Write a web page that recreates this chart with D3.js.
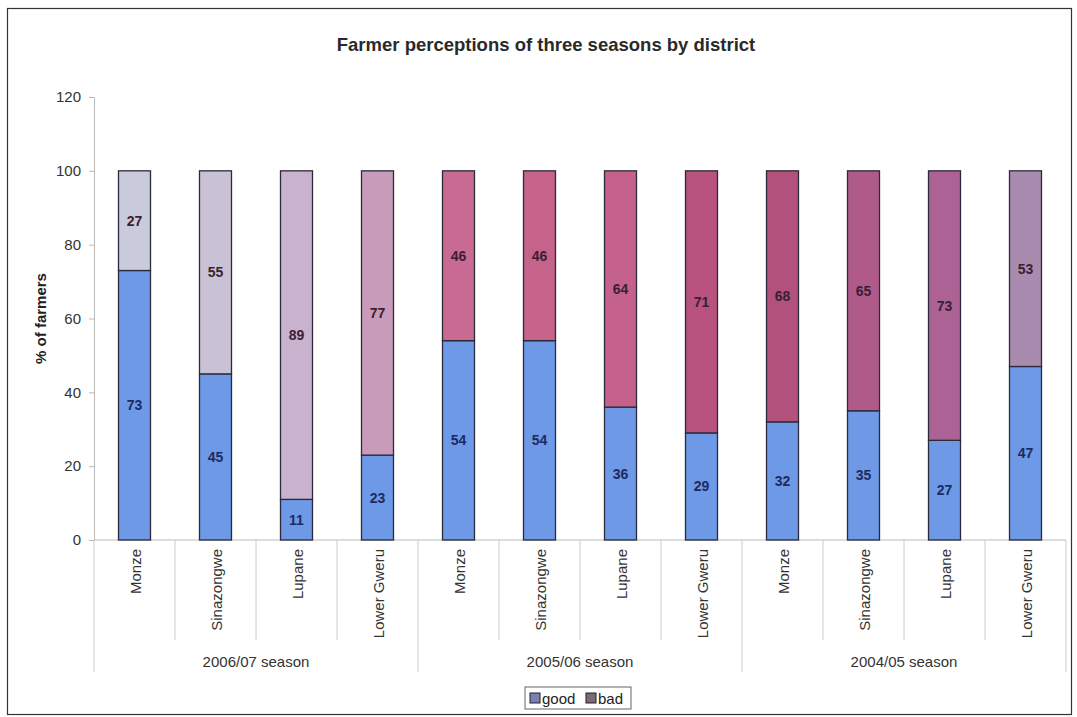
<!DOCTYPE html>
<html>
<head>
<meta charset="utf-8">
<script src="https://cdn.jsdelivr.net/npm/d3@7"></script>
<style>
  body { margin: 0; background: #fff; font-family: "Liberation Sans", Arial, sans-serif; }
</style>
</head>
<body>
<div id="chart"></div>
<script>
const districts = ["Monze", "Sinazongwe", "Lupane", "Lower Gweru"];
const seasons = ["2006/07 season", "2005/06 season", "2004/05 season"];
const good = [73, 45, 11, 23, 54, 54, 36, 29, 32, 35, 27, 47];
const bad = [27, 55, 89, 77, 46, 46, 64, 71, 68, 65, 73, 53];
const yTicks = [0, 20, 40, 60, 80, 100, 120];

// the scan tints each "bad" segment differently, keep that look
const badFill = ["#c9cadc", "#c9c2d6", "#c8b2cd", "#c99bbb", "#c86a92", "#c6638b",
  "#c5628c", "#b8537f", "#b2527c", "#b05a89", "#ad6296", "#a98bb0"];

const W = 1077, H = 717;
const m = { left: 94, right: 1066, top: 97, bottom: 540 };

const svg = d3.select("#chart").append("svg")
  .attr("width", W).attr("height", H);

// outer frame
svg.append("rect")
  .attr("x", 7.5).attr("y", 8.5)
  .attr("width", 1064).attr("height", 706)
  .attr("fill", "none").attr("stroke", "#333").attr("stroke-width", 1.2);

svg.append("text")
  .attr("x", 546).attr("y", 51)
  .attr("text-anchor", "middle")
  .attr("font-size", 18.5).attr("font-weight", "bold")
  .attr("fill", "#2a2a2a")
  .text("Farmer perceptions of three seasons by district");

const rows = [];
seasons.forEach((s, si) => districts.forEach((d, di) => {
  const i = si * districts.length + di;
  rows.push({ key: i, district: d, season: s, good: good[i], bad: bad[i], color: badFill[i] });
}));

const x = d3.scaleBand().domain(rows.map(r => r.key)).range([m.left, m.right]).paddingInner(0).paddingOuter(0);
const y = d3.scaleLinear().domain([0, 120]).range([m.bottom, m.top]);

// y axis
const yAxis = svg.append("g")
  .attr("transform", `translate(${m.left},0)`)
  .call(d3.axisLeft(y).tickValues(yTicks).tickSize(5).tickPadding(8));
yAxis.select(".domain").attr("stroke", "#bbb");
yAxis.selectAll(".tick line").attr("stroke", "#bbb");
yAxis.selectAll("text").attr("font-size", 15).attr("fill", "#333")
  .attr("font-family", "Liberation Sans, Arial, sans-serif");

svg.append("text")
  .attr("transform", `translate(46,${y(60)}) rotate(-90)`)
  .attr("text-anchor", "middle")
  .attr("font-size", 15).attr("font-weight", "bold").attr("fill", "#222")
  .text("% of farmers");

// x axis baseline
svg.append("line")
  .attr("x1", m.left).attr("x2", m.right)
  .attr("y1", y(0)).attr("y2", y(0))
  .attr("stroke", "#bbb");

// category separators
const edges = d3.range(rows.length + 1);
svg.append("g").selectAll("line").data(edges).join("line")
  .attr("x1", i => m.left + i * x.step()).attr("x2", i => m.left + i * x.step())
  .attr("y1", y(0))
  .attr("y2", i => i % districts.length === 0 ? 672 : 640)
  .attr("stroke", "#ccc");

const bw = 32;
const bars = svg.append("g").selectAll("g").data(rows).join("g")
  .attr("transform", d => `translate(${x(d.key) + x.bandwidth() / 2 - bw / 2},0)`);

bars.append("rect")
  .attr("y", d => y(d.good)).attr("height", d => y(0) - y(d.good))
  .attr("width", bw)
  .attr("fill", "#6e99e6").attr("stroke", "#2a2a3a").attr("stroke-width", 1.3);

bars.append("rect")
  .attr("y", d => y(d.good + d.bad)).attr("height", d => y(d.good) - y(d.good + d.bad))
  .attr("width", bw)
  .attr("fill", d => d.color).attr("stroke", "#2a2a3a").attr("stroke-width", 1.3);

bars.append("text")
  .attr("x", bw / 2).attr("y", d => y(d.good / 2) + 5)
  .attr("text-anchor", "middle")
  .attr("font-size", 14).attr("font-weight", "bold").attr("fill", "#1d2b63")
  .text(d => d.good);

bars.append("text")
  .attr("x", bw / 2).attr("y", d => y(d.good + d.bad / 2) + 5)
  .attr("text-anchor", "middle")
  .attr("font-size", 14).attr("font-weight", "bold").attr("fill", "#3a1f33")
  .text(d => d.bad);

// district labels (rotated)
svg.append("g").selectAll("text").data(rows).join("text")
  .attr("transform", d => `translate(${x(d.key) + x.bandwidth() / 2 + 6},${y(0) + 9}) rotate(-90)`)
  .attr("text-anchor", "end")
  .attr("font-size", 15).attr("fill", "#333")
  .text(d => d.district);

// season labels
svg.append("g").selectAll("text").data(seasons).join("text")
  .attr("x", (s, i) => m.left + (i + 0.5) * districts.length * x.step())
  .attr("y", 667)
  .attr("text-anchor", "middle")
  .attr("font-size", 15).attr("fill", "#333")
  .text(s => s);

// legend
const lg = svg.append("g").attr("transform", "translate(525,687)");
lg.append("rect").attr("width", 106).attr("height", 22)
  .attr("fill", "#fff").attr("stroke", "#666");
const items = [{ name: "good", c: "#7a7fb8" }, { name: "bad", c: "#7d6a78" }];
items.forEach((it, i) => {
  const g = lg.append("g").attr("transform", `translate(${5 + i * 56},0)`);
  g.append("rect").attr("x", 0).attr("y", 6).attr("width", 10).attr("height", 10)
    .attr("fill", it.c).attr("stroke", "#222");
  g.append("text").attr("x", 12).attr("y", 16.5)
    .attr("font-size", 15).attr("fill", "#222").text(it.name);
});
</script>
</body>
</html>
